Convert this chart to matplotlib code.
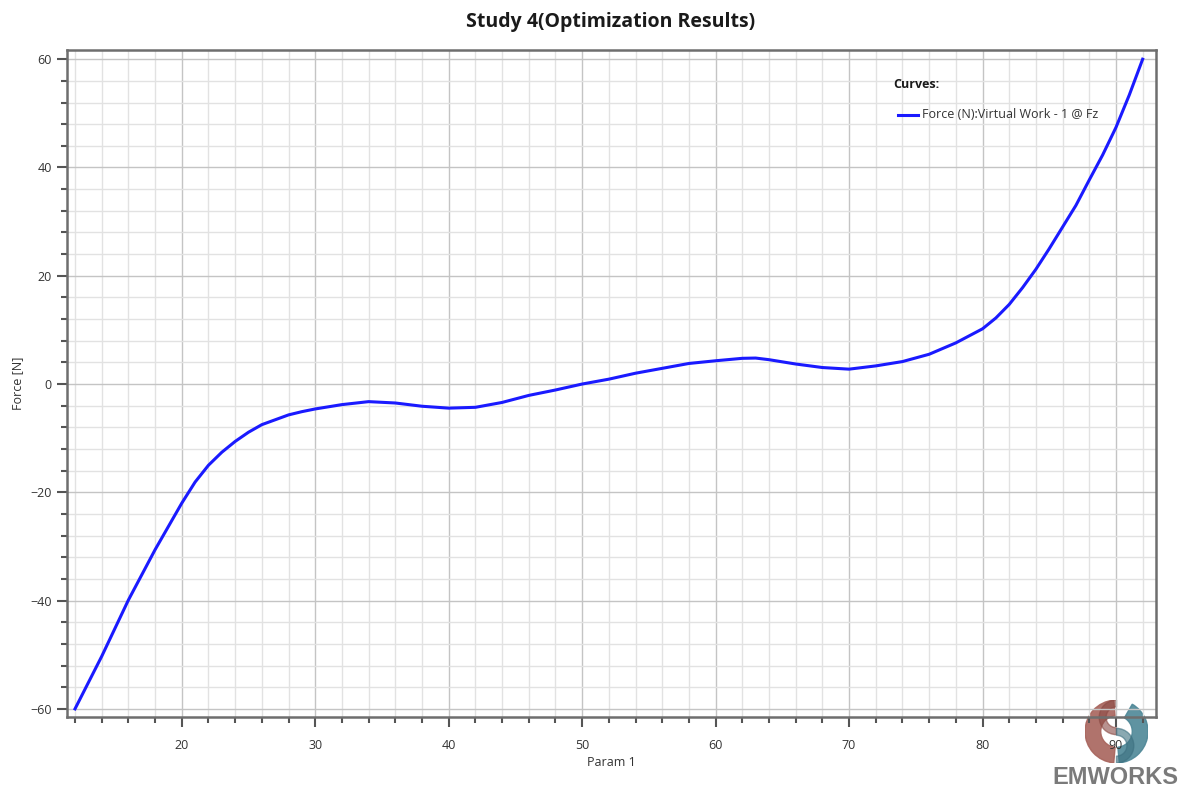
import numpy as np
import matplotlib
matplotlib.use("Agg")
import matplotlib.pyplot as plt
from matplotlib.patches import Wedge
from matplotlib.ticker import MultipleLocator
from matplotlib.lines import Line2D

# values
param = [12, 14, 16, 18, 19, 20, 21, 22, 23, 24, 25, 26, 27, 28, 29, 30, 32, 34,
         36, 38, 40, 42, 44, 46, 48, 50, 52, 54, 56, 58, 60, 62, 63, 64, 66, 68,
         70, 72, 74, 76, 78, 80, 81, 82, 83, 84, 85, 86, 87, 88, 89, 90, 91, 92]
force = [-60.0, -50.3, -39.9, -30.6, -26.3, -22.0, -18.1, -15.0, -12.6, -10.6,
         -8.9, -7.5, -6.6, -5.7, -5.1, -4.6, -3.8, -3.25, -3.5, -4.1, -4.45, -4.3,
         -3.4, -2.1, -1.1, 0.0, 0.9, 2.0, 2.9, 3.8, 4.3, 4.75, 4.8, 4.5, 3.7, 3.05,
         2.75, 3.35, 4.15, 5.5, 7.6, 10.2, 12.2, 14.7, 17.8, 21.2, 25.0, 29.0,
         33.0, 37.7, 42.3, 47.4, 53.4, 60.0]

x_ticks = [20, 30, 40, 50, 60, 70, 80, 90]
y_ticks = [-60, -40, -20, 0, 20, 40, 60]

plt.rcParams['font.family'] = ['Open Sans', 'DejaVu Sans']

fig = plt.figure(figsize=(11.86, 7.93), dpi=100)
fig.patch.set_facecolor('white')

# logo sits under the plot axes
lax = fig.add_axes([1085 / 1186, 1 - 763 / 793, 63 / 1186, 63 / 793], zorder=0)
lax.set_xlim(-1, 1)
lax.set_ylim(-1, 1)
lax.set_aspect('equal')
lax.axis('off')
lax.add_patch(Wedge((0, 0), 1.0, 95, 265, width=0.5, color='#a8645c', alpha=0.9))
lax.add_patch(Wedge((0, 0), 1.0, -85, 60, width=0.5, color='#4e8797', alpha=0.9))
lax.add_patch(Wedge((0, 0.45), 0.55, 90, 270, width=0.22, color='#8a4a44', alpha=0.6))
lax.add_patch(Wedge((0, -0.45), 0.55, -90, 90, width=0.22, color='#3d7080', alpha=0.6))

ax = fig.add_axes([67 / 1186, 1 - 717 / 793, (1156 - 67) / 1186, (717 - 50) / 793], zorder=1)
ax.patch.set_alpha(0)

ax.plot(param, force, color='#1a1aff', lw=2.2, zorder=3)

ax.set_xlim(11.4, 93.0)
ax.set_ylim(-61.5, 61.7)
ax.set_xticks(x_ticks)
ax.set_yticks(y_ticks)
ax.xaxis.set_minor_locator(MultipleLocator(2))
ax.yaxis.set_minor_locator(MultipleLocator(4))

ax.grid(which='major', color='#c4c4c4', lw=1.0, zorder=0)
ax.grid(which='minor', color='#e2e2e2', lw=1.0, zorder=0)
ax.set_axisbelow(True)

for s in ax.spines.values():
    s.set_color('#6e6e6e')
    s.set_linewidth(1.8)

ax.tick_params(which='major', direction='out', length=7, width=1.5, color='#555555',
               labelsize=9, labelcolor='#333333', pad=4)
ax.tick_params(which='minor', direction='out', length=4, width=1.5, color='#555555')
ax.tick_params(top=False, right=False)
ax.tick_params(axis='x', which='major', pad=9)

ax.set_xlabel('Param 1', fontsize=9, color='#333333')
ax.set_ylabel('Force [N]', fontsize=9, color='#333333')
ax.xaxis.set_label_coords(0.5, -(763 - 717) / 667, transform=ax.transAxes)
ax.yaxis.set_label_coords(-(67 - 18) / 1089, 0.5, transform=ax.transAxes)
ax.xaxis.label.set_va('center')
ax.yaxis.label.set_va('center')

fig.text(611 / 1186, 1 - 22 / 793, 'Study 4(Optimization Results)', ha='center', va='center',
         fontsize=14, fontweight='bold', color='#1a1a1a')

# legend block
fig.text(893 / 1186, 1 - 84 / 793, 'Curves:', ha='left', va='center',
         fontsize=9, fontweight='bold', color='#1a1a1a')
fig.add_artist(Line2D([898 / 1186, 918 / 1186], [1 - 115 / 793, 1 - 115 / 793],
                      color='#1a1aff', lw=2.2))
fig.text(922 / 1186, 1 - 115 / 793, 'Force (N):Virtual Work - 1 @ Fz', ha='left', va='center',
         fontsize=9, color='#333333')

fig.text(1115 / 1186, 1 - 778 / 793, 'EMWORKS', ha='center', va='center',
         fontsize=17, fontweight='bold', color='#7a7a7a', family='Liberation Sans')

fig.savefig('out.png', dpi=100, facecolor='white')
